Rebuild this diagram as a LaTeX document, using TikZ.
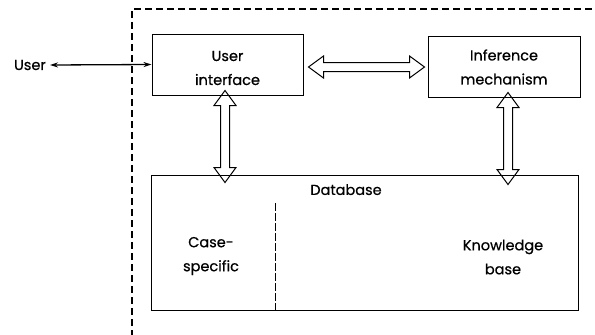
\documentclass[tikz,border=0pt]{standalone}
\usepackage{fontspec}
\setmainfont{Poppins}[UprightFeatures={FakeBold=0.6}]
\usetikzlibrary{arrows.meta,calc}
\begin{document}
\begin{tikzpicture}[x=1pt,y=-1pt,
  box/.style={draw,line width=1pt,inner sep=0pt},
  lbl/.style={font=\fontsize{14.5}{24}\selectfont,align=center,inner sep=0pt},
  % outlined two-headed arrow: head length 15pt, head half-width 11pt, shaft half-width 4.5pt
  hollow/.style={line width=1pt,line join=miter,to path={
    -- ($(\tikztostart)!15pt!(\tikztotarget)!11pt!90:(\tikztotarget)$)
    -- ($(\tikztostart)!15pt!(\tikztotarget)!4.5pt!90:(\tikztotarget)$)
    -- ($(\tikztotarget)!15pt!(\tikztostart)!4.5pt!-90:(\tikztostart)$)
    -- ($(\tikztotarget)!15pt!(\tikztostart)!11pt!-90:(\tikztostart)$)
    -- (\tikztotarget)
    -- ($(\tikztotarget)!15pt!(\tikztostart)!11pt!90:(\tikztostart)$)
    -- ($(\tikztotarget)!15pt!(\tikztostart)!4.5pt!90:(\tikztostart)$)
    -- ($(\tikztostart)!15pt!(\tikztotarget)!4.5pt!-90:(\tikztotarget)$)
    -- ($(\tikztostart)!15pt!(\tikztotarget)!11pt!-90:(\tikztotarget)$)
    -- cycle}},
  frame/.style={line width=1.1pt,dash pattern=on 7pt off 4pt}]
\useasboundingbox (0,0) rectangle (595,335);
% system boundary
\draw[frame] (132,337) -- (132,9) -- (600,9);
% components
\node[box,minimum width=151pt,minimum height=61pt] (ui) at (227.5,64.5) {};
\node[lbl] (uit) at (227.5,68) {User\\interface};
\node[box,minimum width=152pt,minimum height=61pt] (im) at (504,66.5) {};
\node[lbl] (imt) at (504,67) {Inference\\mechanism};
\node[box,minimum width=427pt,minimum height=135pt] (db) at (364.5,242.5) {};
\node[lbl,anchor=north] (dbl) at (346,184) {Database};
\coordinate (divtop) at (275,203);
\coordinate (divbot) at (divtop |- db.south);
\draw[line width=1pt,dash pattern=on 8pt off 2pt] (divtop) -- (divbot);
\node[lbl] (cs) at (211,256) {Case-\\specific};
\node[lbl] (kb) at (503,257) {Knowledge\\base};
\node[lbl,anchor=east] (user) at (46,65) {User};
% connections
\draw[line width=1.3pt,{Stealth[length=8pt,width=5pt]}-{Stealth[length=8pt,width=5pt]}] ([xshift=4pt]user.east) -- (ui.west);
\coordinate (h1) at ([xshift=5pt]ui.east |- 0,67);
\coordinate (h2) at ([xshift=-3pt]im.west |- 0,67);
\coordinate (v1) at ([xshift=-2.5pt,yshift=5pt]ui.south);
\coordinate (v2) at ([xshift=-2.5pt,yshift=-8pt]ui.south |- db.north);
\coordinate (w1) at ([xshift=4pt,yshift=5pt]im.south);
\coordinate (w2) at ([xshift=4pt,yshift=-10pt]im.south |- db.north);
\draw[hollow] (h1) to (h2);
\draw[hollow] (v1) to (v2);
\draw[hollow] (w1) to (w2);
\end{tikzpicture}
\end{document}
